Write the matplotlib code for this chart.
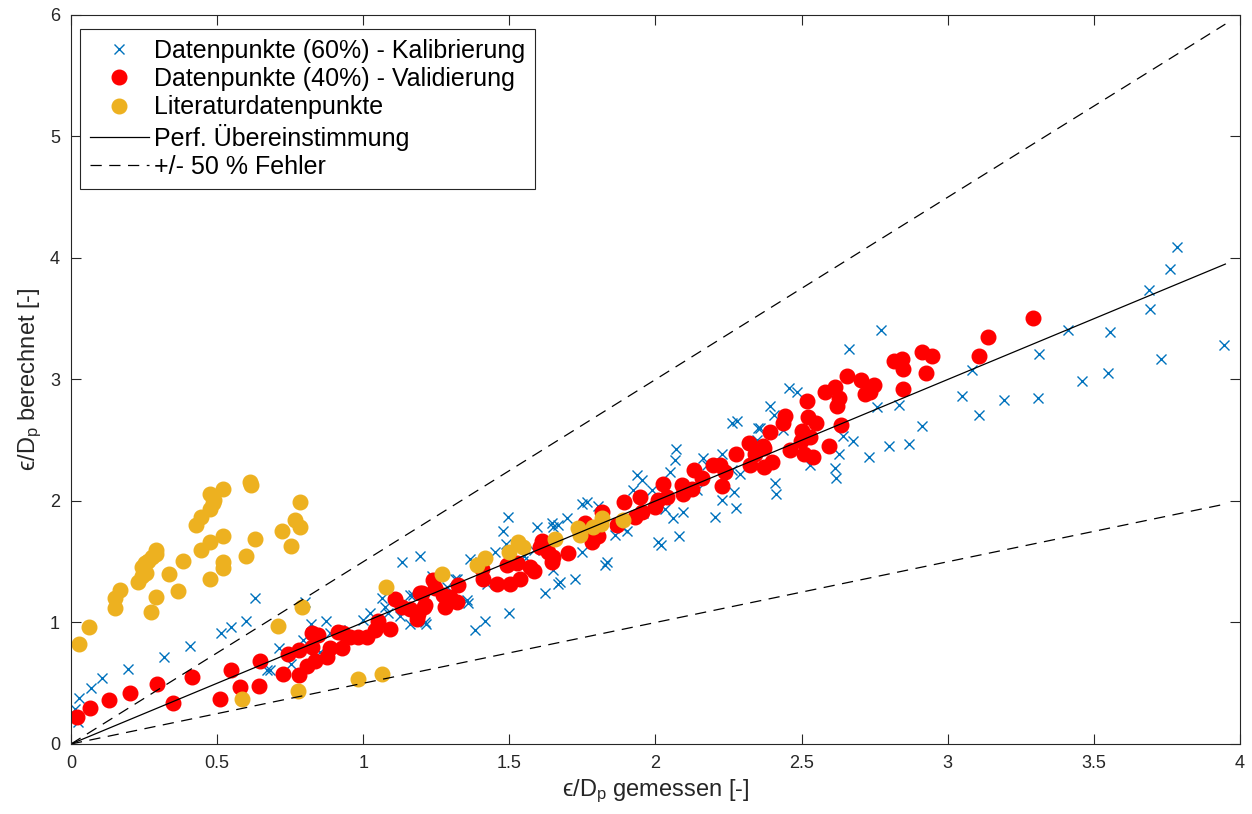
import matplotlib

matplotlib.use("Agg")

import matplotlib.pyplot as plt

plt.rcParams["font.family"] = ["Liberation Sans", "DejaVu Sans"]
plt.rcParams["mathtext.fontset"] = "custom"
plt.rcParams["mathtext.rm"] = "Liberation Sans"
plt.rcParams["mathtext.it"] = "Liberation Sans:italic"

# Datenpunkte (60%) - Kalibrierung
kal_x = [0.014, 0.027, 0.025, 0.067, 0.105, 0.194, 0.318, 0.407, 0.513, 0.547,
         0.598, 0.63, 0.67, 0.681, 0.713, 0.753, 0.80, 0.793, 0.82, 0.871,
         0.886, 0.852, 0.92, 1.023, 1.063, 1.074, 1.131, 1.194, 1.16, 1.16,
         1.211, 1.126, 1.285, 1.32, 1.086, 1.0, 1.215, 1.169, 1.234, 1.314,
         1.354, 1.359, 1.365, 1.382, 1.417, 1.422, 1.451, 1.479, 1.496, 1.488,
         1.499, 1.548, 1.584, 1.596, 1.622, 1.645, 1.667, 1.667, 1.673, 1.725,
         1.65, 1.747, 1.65, 1.696, 1.747, 1.764, 1.804, 1.827, 1.833, 1.888,
         1.901, 1.924, 1.936, 1.953, 1.958, 1.987, 2.01, 2.018, 2.05, 2.067,
         2.07, 2.033, 2.061, 2.081, 2.095, 2.141, 2.164, 2.175, 2.204, 2.226,
         2.226, 2.261, 2.27, 2.275, 2.289, 2.261, 2.278, 2.352, 2.346, 2.358,
         2.392, 2.405, 2.409, 2.412, 2.437, 2.458, 2.483, 2.529, 2.614, 2.617,
         2.629, 2.641, 2.662, 2.677, 2.732, 2.757, 2.771, 2.80, 2.833, 2.868,
         2.911, 3.048, 3.082, 3.108, 3.192, 3.308, 3.313, 3.41, 3.458, 3.547,
         3.556, 3.689, 3.692, 3.729, 3.761, 3.786, 3.946, 1.40, 1.55, 1.86]
kal_y = [0.29, 0.375, 0.18, 0.46, 0.54, 0.62, 0.72, 0.81, 0.91, 0.96,
         1.01, 1.20, 0.61, 0.61, 0.79, 0.66, 1.17, 0.86, 0.985, 1.01,
         0.91, 0.76, 0.94, 1.075, 1.20, 1.13, 1.50, 1.55, 1.23, 0.99,
         1.00, 1.05, 1.29, 1.36, 1.075, 1.02, 0.99, 1.23, 1.38, 1.36,
         1.185, 1.16, 1.52, 0.94, 1.01, 1.32, 1.58, 1.75, 1.87, 1.65,
         1.08, 1.51, 1.60, 1.79, 1.24, 1.815, 1.80, 1.32, 1.33, 1.36,
         1.43, 1.58, 1.79, 1.86, 1.975, 1.995, 1.96, 1.47, 1.50, 1.775,
         1.75, 2.09, 2.21, 2.17, 1.90, 2.09, 1.665, 1.64, 2.24, 2.34,
         2.43, 1.93, 1.86, 1.71, 1.91, 2.09, 2.35, 2.295, 1.87, 2.01,
         2.39, 2.255, 2.075, 1.94, 2.22, 2.64, 2.655, 2.60, 2.50, 2.60,
         2.78, 2.71, 2.145, 2.06, 2.585, 2.93, 2.90, 2.295, 2.27, 2.19,
         2.39, 2.535, 3.25, 2.49, 2.365, 2.77, 3.41, 2.45, 2.79, 2.47,
         2.62, 2.86, 3.08, 2.71, 2.83, 2.845, 3.21, 3.41, 2.99, 3.05,
         3.39, 3.74, 3.58, 3.165, 3.91, 4.09, 3.28, 1.50, 1.55, 1.72]

# Datenpunkte (40%) - Validierung
val_x = [0.022, 0.065, 0.131, 0.202, 0.293, 0.35, 0.414, 0.51, 0.547, 0.578,
         0.644, 0.647, 0.724, 0.744, 0.779, 0.781, 0.806, 0.824, 0.835, 0.824,
         0.846, 0.875, 0.886, 0.915, 0.926, 0.932, 0.955, 0.983, 1.012, 1.04,
         1.052, 1.092, 1.109, 1.131, 1.16, 1.183, 1.188, 1.2, 1.211, 1.24,
         1.245, 1.28, 1.285, 1.325, 1.194, 1.209, 1.274, 1.297, 1.32, 1.405,
         1.411, 1.457, 1.491, 1.502, 1.525, 1.536, 1.571, 1.584, 1.61, 1.633,
         1.645, 1.605, 1.65, 1.70, 1.759, 1.776, 1.782, 1.804, 1.816, 1.867,
         1.892, 1.93, 1.947, 1.953, 1.998, 2.01, 2.025, 2.038, 2.09, 2.093,
         2.124, 2.132, 2.158, 2.198, 2.22, 2.226, 2.238, 2.275, 2.323, 2.321,
         2.34, 2.371, 2.371, 2.392, 2.369, 2.397, 2.437, 2.443, 2.46, 2.497,
         2.50, 2.509, 2.517, 2.523, 2.529, 2.54, 2.549, 2.581, 2.595, 2.614,
         2.629, 2.62, 2.635, 2.656, 2.702, 2.717, 2.734, 2.749, 2.816, 2.842,
         2.846, 2.848, 2.911, 2.926, 2.945, 3.108, 3.139, 3.293]
val_y = [0.22, 0.30, 0.36, 0.42, 0.49, 0.34, 0.55, 0.37, 0.61, 0.47,
         0.48, 0.68, 0.58, 0.74, 0.57, 0.77, 0.64, 0.80, 0.68, 0.91,
         0.90, 0.72, 0.79, 0.92, 0.79, 0.91, 0.88, 0.88, 0.88, 0.94,
         1.01, 0.95, 1.19, 1.13, 1.11, 1.03, 1.07, 1.24, 1.14, 1.35,
         1.28, 1.13, 1.20, 1.31, 1.24, 1.13, 1.23, 1.21, 1.17, 1.44,
         1.36, 1.32, 1.47, 1.32, 1.49, 1.36, 1.46, 1.42, 1.67, 1.58,
         1.50, 1.62, 1.54, 1.575, 1.82, 1.73, 1.665, 1.71, 1.91, 1.80,
         1.99, 1.87, 2.035, 1.91, 1.95, 2.01, 2.14, 2.035, 2.13, 2.06,
         2.095, 2.255, 2.19, 2.30, 2.30, 2.12, 2.24, 2.39, 2.30, 2.475,
         2.39, 2.28, 2.44, 2.57, 2.45, 2.32, 2.64, 2.70, 2.42, 2.49,
         2.58, 2.39, 2.82, 2.69, 2.53, 2.36, 2.645, 2.90, 2.45, 2.935,
         2.85, 2.78, 2.625, 3.03, 2.995, 2.88, 2.90, 2.955, 3.15, 3.165,
         3.085, 2.92, 3.23, 3.055, 3.19, 3.19, 3.35, 3.51]

# Literaturdatenpunkte
lit_x = [0.028, 0.06, 0.15, 0.15, 0.168, 0.228, 0.242, 0.257, 0.242, 0.253,
         0.265, 0.276, 0.291, 0.291, 0.274, 0.29, 0.336, 0.367, 0.382, 0.428,
         0.445, 0.445, 0.476, 0.476, 0.476, 0.487, 0.476, 0.489, 0.521, 0.521,
         0.521, 0.521, 0.598, 0.612, 0.615, 0.63, 0.721, 0.752, 0.766, 0.784,
         0.784, 0.789, 0.707, 0.584, 0.776, 0.983, 1.065, 1.077, 1.268, 1.388,
         1.417, 1.50, 1.528, 1.545, 1.657, 1.736, 1.74, 1.787, 1.816, 1.812,
         1.888]
lit_y = [0.82, 0.96, 1.12, 1.20, 1.27, 1.33, 1.38, 1.41, 1.46, 1.49,
         1.51, 1.54, 1.56, 1.60, 1.09, 1.21, 1.40, 1.26, 1.51, 1.80,
         1.87, 1.60, 1.66, 1.36, 1.93, 1.98, 2.06, 2.01, 2.10, 1.71,
         1.50, 1.45, 1.55, 2.16, 2.13, 1.69, 1.75, 1.63, 1.84, 1.79,
         1.99, 1.13, 0.97, 0.37, 0.44, 0.535, 0.58, 1.29, 1.40, 1.47,
         1.53, 1.58, 1.66, 1.62, 1.69, 1.775, 1.72, 1.79, 1.86, 1.81,
         1.84]

ref_x = [0, 3.95]
ref_y = [0, 3.95]
upper_y = [0, 5.925]
lower_y = [0, 1.975]

fig = plt.figure(figsize=(12.52, 8.14), dpi=100)
ax = fig.add_axes([0.0567, 0.086, 0.9337, 0.8956])

ax.plot(kal_x, kal_y, linestyle="none", marker="x", color="#0072BD",
        markersize=7, markeredgewidth=1.0, label="Datenpunkte (60%) - Kalibrierung")
ax.plot(val_x, val_y, linestyle="none", marker="o", color="#FF0000",
        markersize=10.5, label="Datenpunkte (40%) - Validierung")
ax.plot(lit_x, lit_y, linestyle="none", marker="o", color="#EDB120",
        markersize=10.5, label="Literaturdatenpunkte")
ax.plot(ref_x, ref_y, color="black", linewidth=0.9, label="Perf. Übereinstimmung")
ax.plot(ref_x, upper_y, color="black", linewidth=0.9, linestyle=(0, (9, 6)),
        label="+/- 50 % Fehler")
ax.plot(ref_x, lower_y, color="black", linewidth=0.9, linestyle=(0, (9, 6)))

ax.set_xlim(0, 4)
ax.set_ylim(0, 6)
ax.set_xticks([0, 0.5, 1, 1.5, 2, 2.5, 3, 3.5, 4])
ax.set_xticklabels(["0", "0.5", "1", "1.5", "2", "2.5", "3", "3.5", "4"])
ax.set_yticks([0, 1, 2, 3, 4, 5, 6])
ax.tick_params(direction="in", top=True, right=True, length=7, width=0.8,
               labelsize=13, colors="#262626", pad=8)
for spine in ax.spines.values():
    spine.set_color("#262626")
    spine.set_linewidth(0.8)

ax.set_xlabel(r"ϵ/D$_\mathrm{p}$ gemessen [-]", fontsize=17, color="#262626")
ax.set_ylabel(r"ϵ/D$_\mathrm{p}$ berechnet [-]", fontsize=17, color="#262626")

leg = ax.legend(loc="upper left", fontsize=18, frameon=True, fancybox=False,
                edgecolor="#262626", framealpha=1, handlelength=2.35,
                borderpad=0.4, labelspacing=0.17, handletextpad=0.2,
                borderaxespad=0, bbox_to_anchor=(0.0077, 0.981))
leg.get_frame().set_linewidth(0.8)

fig.savefig("out.png", dpi=100)
plt.close(fig)
